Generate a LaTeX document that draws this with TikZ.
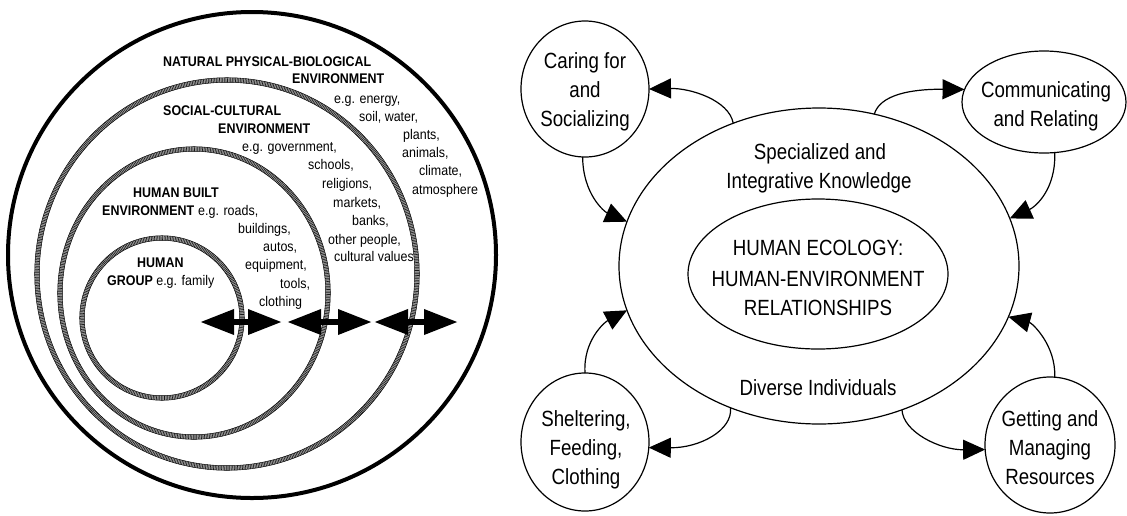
\documentclass[tikz,border=0pt]{standalone}
\usepackage{fontspec}
\setmainfont[FakeStretch=0.89]{Liberation Sans}
\newfontfamily\rfont[FakeStretch=0.85]{Liberation Sans}
\usetikzlibrary{arrows.meta,shapes.geometric}
\newcommand{\hatchring}[4]{%
  \draw[ringbase] (#1,#2) ellipse [x radius=#3pt, y radius=#4pt];
  \draw[ringhatch] (#1,#2) ellipse [x radius=#3pt, y radius=#4pt];
  \draw[line width=0.45pt] (#1,#2) ellipse [x radius=#3pt+2.3pt, y radius=#4pt+2.3pt];
  \draw[line width=0.45pt] (#1,#2) ellipse [x radius=#3pt-2.3pt, y radius=#4pt-2.3pt];
}
\tikzset{
  lbl/.style={font=\fontsize{14}{18}\selectfont, inner sep=0pt, anchor=base west},
  blbl/.style={lbl, font=\fontsize{14}{18}\selectfont\bfseries},
  rlbl/.style={font=\rfont\fontsize{22}{29}\selectfont, inner sep=0pt, anchor=base},
  ctxt/.style={font=\rfont\fontsize{22}{29}\selectfont, inner sep=0pt, align=center},
  act/.style={draw, ellipse, line width=1.2pt, inner sep=0pt, outer sep=0pt},
  flow/.style={line width=1.2pt, -{Triangle[length=22pt,width=20pt]}},
  dblarrow/.style={line width=6.5pt, {Triangle[length=34pt,width=24pt]}-{Triangle[length=34pt,width=24pt]}},
  ringbase/.style={line width=4.6pt, draw=black!35},
  ringhatch/.style={line width=4.6pt, draw=black!90, dash pattern=on 0.6pt off 1.0pt},
}
\begin{document}
\begin{tikzpicture}[x=1pt,y=-1pt]
\useasboundingbox (0,0) rectangle (1127,515);
\fill[white] (0,0) rectangle (1127,515);

% ---------- left: nested environments ----------
\draw[line width=4pt] (252,255) ellipse [x radius=244pt, y radius=243pt];
\hatchring{227}{274}{190}{194}
\hatchring{194}{293}{134}{144}
\hatchring{162}{318}{80}{80}

\coordinate (a1l) at (200,322); \coordinate (a1r) at (282,322);
\coordinate (a2l) at (287,322); \coordinate (a2r) at (372,322);
\coordinate (a3l) at (374,322); \coordinate (a3r) at (458,322);
\draw[dblarrow] (a1l) -- (a1r);
\draw[dblarrow] (a2l) -- (a2r);
\draw[dblarrow] (a3l) -- (a3r);

\node[blbl] (nat1) at (163,66) {NATURAL PHYSICAL-BIOLOGICAL};
\node[blbl] (nat2) at (292,83) {ENVIRONMENT};
\node[lbl] (nat3) at (334,103) {e.g. energy,};
\node[lbl] (nat4) at (359,121) {soil, water,};
\node[lbl] (nat5) at (403,139) {plants,};
\node[lbl] (nat6) at (402,157) {animals,};
\node[lbl] (nat7) at (419,175) {climate,};
\node[lbl] (nat8) at (412,194) {atmosphere};

\node[blbl] (soc1) at (163,115) {SOCIAL-CULTURAL};
\node[blbl] (soc2) at (218,133) {ENVIRONMENT};
\node[lbl] (soc3) at (242,151) {e.g. government,};
\node[lbl] (soc4) at (308,169) {schools,};
\node[lbl] (soc5) at (322,188) {religions,};
\node[lbl] (soc6) at (333,207) {markets,};
\node[lbl] (soc7) at (352,225) {banks,};
\node[lbl] (soc8) at (328,244) {other people,};
\node[lbl] (soc9) at (334,261) {cultural values};

\node[blbl] (bui1) at (133,197) {HUMAN BUILT};
\node[blbl] (bui2) at (102,215) {ENVIRONMENT};
\node[lbl] (bui3) at (198,215) {e.g. roads,};
\node[lbl] (bui4) at (238,233) {buildings,};
\node[lbl] (bui5) at (263,251) {autos,};
\node[lbl] (bui6) at (245,269) {equipment,};
\node[lbl] (bui7) at (280,288) {tools,};
\node[lbl] (bui8) at (259,306) {clothing};

\node[blbl] (grp1) at (137,267) {HUMAN};
\node[lbl] (grp2) at (107,285) {\textbf{GROUP} e.g. family};

% ---------- right: human ecology ----------
\node[act, minimum width=400pt, minimum height=316pt] (big) at (819,266) {};
\node[act, minimum width=260pt, minimum height=150pt] (core) at (818,274) {};
\node[act, minimum width=128pt, minimum height=136pt] (care) at (585,89) {};
\node[act, minimum width=164pt, minimum height=102pt] (comm) at (1044,102) {};
\node[act, minimum width=128pt, minimum height=138pt] (shelter) at (585,442) {};
\node[act, minimum width=130pt, minimum height=136pt] (getting) at (1050,445) {};

\node[rlbl] (spec1) at (820,159) {Specialized and};
\node[rlbl] (spec2) at (819,188) {Integrative Knowledge};
\node[rlbl] (eco1) at (818,255) {HUMAN ECOLOGY:};
\node[rlbl] (eco2) at (818,286) {HUMAN-ENVIRONMENT};
\node[rlbl] (eco3) at (818,315) {RELATIONSHIPS};
\node[rlbl] (div) at (818,395) {Diverse Individuals};

\node[ctxt] (caretxt) at (585,91.5) {Caring for\\and\\Socializing};
\node[ctxt] (commtxt) at (1046,106.8) {Communicating\\and Relating};
\node[ctxt] (sheltertxt) at (586,450.3) {Sheltering,\\Feeding,\\Clothing};
\node[ctxt] (gettingtxt) at (1050,448) {Getting and\\Managing\\Resources};

\draw[flow] (big.121.7) .. controls (729,100) and (690,88) .. (care.0);
\draw[flow] (care.268) .. controls (583,195) and (605,212) .. (big.167);
\draw[flow] (big.70.3) .. controls (880,95) and (910,89) .. (comm.171);
\draw[flow] (comm.282) .. controls (1056,190) and (1035,207) .. (big.14.2);
\draw[flow] (shelter.north) .. controls (583,340) and (605,322) .. (big.193.6);
\draw[flow] (big.238.6) .. controls (733,430) and (700,448) .. (shelter.355);
\draw[flow] (big.300.6) .. controls (903,432) and (940,450) .. (getting.184);
\draw[flow] (getting.86) .. controls (1056,345) and (1032,323) .. (big.345.5);
\end{tikzpicture}
\end{document}
